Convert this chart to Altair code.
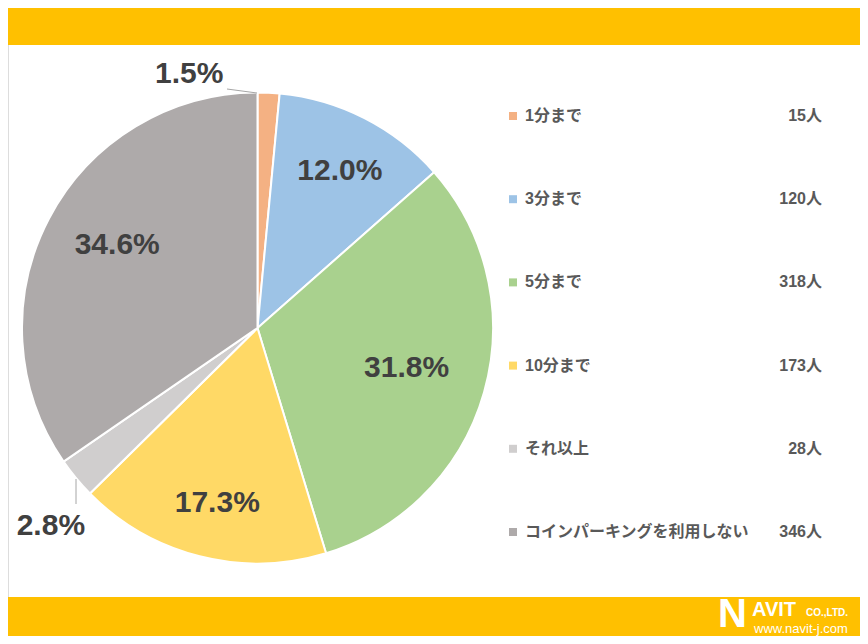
import altair as alt
import pandas as pd

categories = ["1分まで", "3分まで", "5分まで", "10分まで", "それ以上", "コインパーキングを利用しない"]
counts = [15, 120, 318, 173, 28, 346]
colors = ["#F4B183", "#9DC3E6", "#A9D18E", "#FFD966", "#D0CECE", "#AEAAAA"]

total = sum(counts)
pct_labels = [f"{c / total * 100:.1f}%" for c in counts]
value_labels = [f"{c}人" for c in counts]

df = pd.DataFrame({
    "idx": list(range(len(categories))),
    "cat": categories,
    "count": counts,
    "pct": pct_labels,
    "val": value_labels,
})

W, H = 852, 628
CX, CY = 249.5, 320
R = 235.5
LATIN = "Liberation Sans, Noto Sans CJK JP"
TXT = "#404040"

# label placement styles (radius, dx, dy) per slice index
label_style = {
    0: (250, -80, -4),
    1: (177, 2, 1),
    2: (155, 0, -2),
    3: (180, 4, 1),
    4: (250, -14, 39),
    5: (163, 4, -7),
}

base = alt.Chart(df)
one = alt.Chart(pd.DataFrame({"a": [0]}))

color = alt.Color("cat:N", scale=alt.Scale(domain=categories, range=colors), legend=None)
theta = alt.Theta("count:Q", stack=True)
order = alt.Order("idx:Q", sort="ascending")

top_band = one.mark_rect(color="#FFC000").encode(
    x=alt.value(0), x2=alt.value(W), y=alt.value(0), y2=alt.value(37))
bottom_band = one.mark_rect(color="#FFC000").encode(
    x=alt.value(0), x2=alt.value(W), y=alt.value(589), y2=alt.value(H))

pie = base.mark_arc(outerRadius=R, stroke="white", strokeWidth=2).encode(
    theta=theta, color=color, order=order, x=alt.value(CX), y=alt.value(CY))

label_layers = []
for i, (r, dx, dy) in label_style.items():
    label_layers.append(
        base.mark_text(radius=r, dx=dx, dy=dy, fontSize=30, fontWeight="bold",
                       font=LATIN, color=TXT, align="center", baseline="middle").encode(
            theta=theta, order=order, x=alt.value(CX), y=alt.value(CY),
            text=alt.condition(alt.datum.idx == i, alt.Text("pct:N"), alt.value("")))
    )

lead1 = one.mark_rule(color="#A6A6A6", strokeWidth=1).encode(
    x=alt.value(219), y=alt.value(81), x2=alt.value(249), y2=alt.value(85))
lead2 = one.mark_rule(color="#A6A6A6", strokeWidth=1).encode(
    x=alt.value(68), y=alt.value(471), x2=alt.value(68), y2=alt.value(496))

ypos = alt.Y("cat:N", sort=categories,
             scale=alt.Scale(type="point", range=[108, 524], padding=0), axis=None)

leg_sq = base.mark_square(size=64, opacity=1).encode(
    x=alt.value(505), y=ypos, color=color)
leg_txt = base.mark_text(align="left", baseline="middle", fontSize=16, fontWeight="bold",
                         font=LATIN, color="#595959").encode(
    x=alt.value(517), y=ypos, text="cat:N")
leg_val = base.mark_text(align="right", baseline="middle", fontSize=16, fontWeight="bold",
                         font=LATIN, color="#595959").encode(
    x=alt.value(814), y=ypos, text="val:N")

logo_n = one.mark_text(text="N", align="left", baseline="bottom", fontSize=40,
                       fontWeight="bold", font="Liberation Sans", color="white").encode(
    x=alt.value(710), y=alt.value(627))
logo_avit = one.mark_text(text="AVIT", align="left", baseline="alphabetic", fontSize=20,
                          fontWeight="bold", font="Liberation Sans", color="white").encode(
    x=alt.value(744), y=alt.value(608))
logo_co = one.mark_text(text="CO.,LTD.", align="left", baseline="alphabetic", fontSize=10,
                        fontWeight="bold", font="Liberation Sans", color="white").encode(
    x=alt.value(798), y=alt.value(608))
logo_url = one.mark_text(text="www.navit-j.com", align="left", baseline="bottom", fontSize=13,
                         font="Liberation Sans", color="white").encode(
    x=alt.value(746), y=alt.value(628))

chart = alt.layer(
    top_band, bottom_band, pie, *label_layers, lead1, lead2,
    leg_sq, leg_txt, leg_val, logo_n, logo_avit, logo_co, logo_url
).properties(
    width=W, height=H, autosize=alt.AutoSizeParams(type="none"), padding=0
).configure_view(stroke=None).configure(background="white")

chart.save("out.html", embed_options={"renderer": "svg", "actions": False})
